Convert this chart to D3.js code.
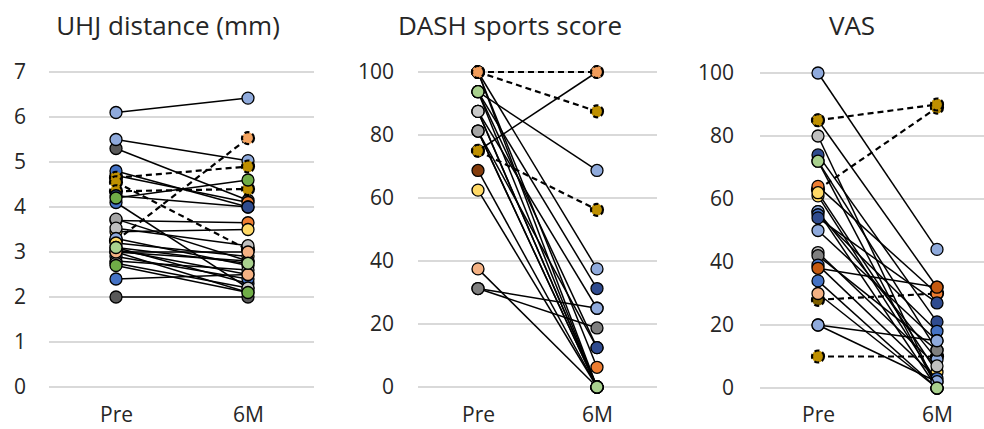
<!DOCTYPE html>
<html><head><meta charset="utf-8">
<script src="https://cdn.jsdelivr.net/npm/d3@7"></script>
<style>body{margin:0;background:#fff}svg{display:block}text{font-family:"Open Sans",sans-serif;fill:#262626}</style>
</head><body><svg id="c" width="984" height="429"></svg>
<script>
const categories = ["Pre", "6M"];
// UHJ distance (mm) — subjects listed in drawing order
const uhjTicks = [0,1,2,3,4,5,6,7];
const uhjPre = [5.3,6.1,5.5,4.7,4.8,4.65,4.55,3.25,4.35,4.1,4.25,4.2,3.7,3.73,3.45,3.53,3.3,3.2,3.1,3.0,3.0,2.9,2.8,2.75,2.4,3.05,2.0,3.0,3.1,2.7];
const uhj6M = [4.15,6.42,5.03,4.1,4.0,4.9,3.05,5.53,4.4,2.2,4.0,4.6,3.65,2.8,3.5,3.14,2.7,2.9,2.3,2.8,2.1,2.4,2.6,2.2,2.5,2.5,2.0,3.0,2.75,2.1];
const uhjColors = ["#595959","#8faadc","#8faadc","#ed7d31","#4472c4","#bf9000","#bf9000","#f4a460","#bf9000","#4472c4","#2f4b8f","#70ad47","#ed7d31","#a5a5a5","#ffd966","#bfbfbf","#8faadc","#ffd966","#2f4b8f","#595959","#70ad47","#4472c4","#a5a5a5","#c9c9c9","#4472c4","#f4b183","#595959","#f4b183","#a9d18e","#70ad47"];
const uhjDashed = [5,6,7,8];
// DASH sports score
const dashTicks = [0,20,40,60,80,100];
const dashPre = [75,100,100,100,100,100,75,93.75,93.75,93.75,87.5,87.5,81.25,81.25,68.75,62.5,37.5,31.25,31.25,87.5,81.25,93.75];
const dash6M = [100,87.5,37.5,6.25,0,100,56.25,68.75,31.25,12.5,25,0,12.5,0,0,0,0,25,18.75,0,0,0];
const dashColors = ["#ed7d31","#bf9000","#8faadc","#ed7d31","#f4a460","#f19c5a","#bf9000","#8faadc","#2f4b8f","#2f4b8f","#8faadc","#bfbfbf","#2f4b8f","#a5a5a5","#843c0c","#ffd966","#f4b183","#8faadc","#7f7f7f","#c9c9c9","#a5a5a5","#a9d18e"];
const dashDashed = [1,5,6];
// VAS
const vasTicks = [0,20,40,60,80,100];
const vasPre = [85,63,85,28,10,100,80,72,74,64,61,62,56,56,55,54,50,43,42,39,38,34,30,20,20,72];
const vas6M = [32,89,90,30,10,44,0,12,21,30,2,5,0,9,18,27,15,7,12,3,32,0,0,15,2,0];
const vasColors = ["#843c0c","#bf9000","#bf9000","#7f6000","#bf9000","#8faadc","#bfbfbf","#a5a5a5","#2f4b8f","#ed7d31","#ffd966","#ffd966","#70ad47","#8faadc","#4472c4","#2f4b8f","#8faadc","#bfbfbf","#7f7f7f","#4472c4","#c55a11","#4472c4","#f4b183","#8faadc","#8faadc","#a9d18e"];
const vasDashed = [1,2,3,4];

const svg = d3.select("#c");
const FONT = '"Open Sans",sans-serif';

function panel(o){
  const g = svg.append("g");
  const y = d3.scaleLinear().domain([0, d3.max(o.ticks)]).range([o.y0, o.y1]);
  const x = d3.scalePoint().domain(categories).range([o.xPre, o.x6M]);
  g.selectAll("line.grid").data(o.ticks).join("line")
    .attr("x1", o.gx0).attr("x2", o.gx1)
    .attr("y1", d=>y(d)).attr("y2", d=>y(d))
    .attr("stroke", "#d9d9d9").attr("stroke-width", 2);
  const ax = d3.axisLeft(y).tickValues(o.ticks).tickFormat(d3.format("d")).tickSize(0).tickPadding(0);
  const axg = g.append("g").attr("transform", `translate(${o.labelX},0)`).call(ax);
  axg.select(".domain").remove();
  axg.selectAll("text").attr("font-size", 21).attr("font-family", FONT).attr("fill", "#262626");
  const bx = d3.axisBottom(x).tickSize(0).tickPadding(0);
  const bxg = g.append("g").attr("transform", `translate(0,407.5)`).call(bx);
  bxg.select(".domain").remove();
  bxg.selectAll("text").attr("font-size", 21).attr("font-family", FONT).attr("fill", "#262626");
  g.append("text").attr("x", o.titleX).attr("y", 34.5).attr("text-anchor", "middle")
    .attr("font-size", 26).text(o.title);
  const n = o.pre.length;
  for (let i = 0; i < n; i++) {
    const dashed = o.dashed.includes(i);
    const s = g.append("g");
    s.append("line")
      .attr("x1", x("Pre")).attr("y1", y(o.pre[i]))
      .attr("x2", x("6M")).attr("y2", y(o.post[i]))
      .attr("stroke", "#000").attr("stroke-width", dashed ? 2.2 : 1.5)
      .attr("stroke-dasharray", dashed ? "6,4" : null);
    s.selectAll("circle").data([["Pre", o.pre[i]], ["6M", o.post[i]]]).join("circle")
      .attr("cx", d=>x(d[0])).attr("cy", d=>y(d[1])).attr("r", 6)
      .attr("fill", o.colors[i]).attr("stroke", "#000")
      .attr("stroke-width", dashed ? 2.2 : 1.3)
      .attr("stroke-dasharray", dashed ? "5,3" : null);
  }
}

panel({title:"UHJ distance (mm)", ticks:uhjTicks, pre:uhjPre, post:uhj6M, colors:uhjColors, dashed:uhjDashed,
  y0:387, y1:72, xPre:116, x6M:248, gx0:49, gx1:314, labelX:26, titleX:168});
panel({title:"DASH sports score", ticks:dashTicks, pre:dashPre, post:dash6M, colors:dashColors, dashed:dashDashed,
  y0:387, y1:72, xPre:478, x6M:597, gx0:418, gx1:657, labelX:394, titleX:510});
panel({title:"VAS", ticks:vasTicks, pre:vasPre, post:vas6M, colors:vasColors, dashed:vasDashed,
  y0:388, y1:73, xPre:818, x6M:937, gx0:760, gx1:984, labelX:734, titleX:852});
</script></body></html>
